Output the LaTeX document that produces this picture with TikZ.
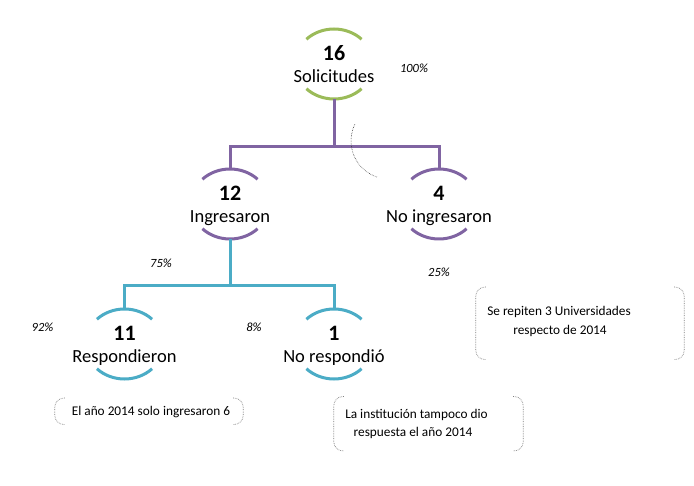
\documentclass[tikz,border=0pt]{standalone}
\usepackage{fontspec}
\setmainfont{Carlito}
\usetikzlibrary{shapes.geometric,calc}
\definecolor{cpurple}{HTML}{8064A2}
\definecolor{cgreen}{HTML}{9BBB59}
\definecolor{cteal}{HTML}{4BACC6}
\definecolor{cgray}{HTML}{7F7F7F}
\newcommand\hubarcs[2]{%
  \draw[#2,bar] (#1) ++(45:39pt and 35pt) arc[start angle=45,end angle=135,x radius=39pt,y radius=35pt];
  \draw[#2,bar] (#1) ++(225:39pt and 35pt) arc[start angle=225,end angle=315,x radius=39pt,y radius=35pt];}
\newcommand\bracketpair[1]{%
  \draw[brk] ([xshift=10pt]#1.north west) -- (#1.north west) -- (#1.south west) -- ([xshift=10pt]#1.south west);
  \draw[brk] ([xshift=-10pt]#1.north east) -- (#1.north east) -- (#1.south east) -- ([xshift=-10pt]#1.south east);}
\begin{document}
\begin{tikzpicture}[x=1pt,y=1pt,
  hub/.style={ellipse,minimum width=78pt,minimum height=70pt,inner sep=0pt,draw=none},
  num/.style={font=\fontsize{22}{26}\selectfont\bfseries,anchor=base,inner sep=0pt},
  word/.style={font=\fontsize{18.5}{22}\selectfont,anchor=base,inner sep=0pt},
  pct/.style={font=\fontsize{12.5}{15}\selectfont\itshape,inner sep=0pt},
  note/.style={font=\fontsize{13.3}{18}\selectfont,inner sep=0pt},
  bar/.style={line width=3pt},
  brk/.style={cgray,densely dotted,line width=0.7pt,rounded corners=9pt},
  boxarea/.style={draw=none,inner sep=0pt}]
\useasboundingbox[fill=white] (0,0) rectangle (694,485);
% hubs
\node[hub] (n16) at (334,421) {};
\node[hub] (n12) at (230,281) {};
\node[hub] (n4)  at (439,281) {};
\node[hub] (n11) at (124.5,141) {};
\node[hub] (n1)  at (334,141) {};
\hubarcs{n16}{cgreen}
\hubarcs{n12}{cpurple}
\hubarcs{n4}{cpurple}
\hubarcs{n11}{cteal}
\hubarcs{n1}{cteal}
% connectors
\draw[cpurple,bar] (n16.south) -- ++(0,-47) coordinate (b1) -| (n12.north);
\draw[cpurple,bar] (b1) -| (n4.north);
\draw[cteal,bar] (n12.south) -- ++(0,-46) coordinate (b2) -| (n11.north);
\draw[cteal,bar] (b2) -| (n1.north);
% labels
\node[num]  (t16) at ($(n16)+(0,3.5)$) {16};
\node[word] (w16) at ($(n16)+(0,-18.3)$) {Solicitudes};
\node[num]  (t12) at ($(n12)+(0,3.5)$) {12};
\node[word] (w12) at ($(n12)+(0,-18.3)$) {Ingresaron};
\node[num]  (t4)  at ($(n4)+(0,3.5)$) {4};
\node[word] (w4)  at ($(n4)+(0,-18.3)$) {No ingresaron};
\node[num]  (t11) at ($(n11)+(0,3.5)$) {11};
\node[word] (w11) at ($(n11)+(0,-18.3)$) {Respondieron};
\node[num]  (t1)  at ($(n1)+(0,3.5)$) {1};
\node[word] (w1)  at ($(n1)+(0,-18.3)$) {No respondió};
% percentages
\node[pct] (p100) at (414,417) {100\%};
\node[pct] (p75)  at (161,222) {75\%};
\node[pct] (p25)  at (439,213) {25\%};
\node[pct] (p92)  at (42.5,158) {92\%};
\node[pct] (p8)   at (254,158) {8\%};
% dotted arc
\draw[black!75,densely dotted,line width=0.6pt] (389,344) ++(154:38pt) arc[start angle=154,end angle=252,radius=38pt];
% note boxes
\node[boxarea,minimum width=188pt,minimum height=26pt] (bA) at (149,73.7) {};
\node[boxarea,minimum width=189pt,minimum height=54pt] (bB) at (428.5,61.3) {};
\node[boxarea,minimum width=208pt,minimum height=72pt] (bC) at (580,161.7) {};
\bracketpair{bA}
\bracketpair{bB}
\bracketpair{bC}
\node[note] (tA)  at (151,73.3) {El año 2014 solo ingresaron 6};
\node[note] (tB1) at (416.5,70) {La institución tampoco dio};
\node[note] (tB2) at (413,52.3) {respuesta el año 2014};
\node[note] (tC1) at (559,172.7) {Se repiten 3 Universidades};
\node[note] (tC2) at (560,154.3) {respecto de 2014};
\end{tikzpicture}
\end{document}
